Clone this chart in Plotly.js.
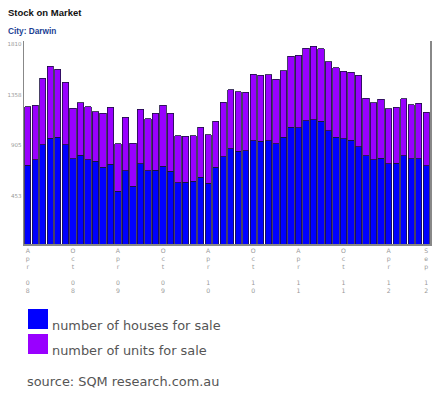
<!DOCTYPE html>
<html>
<head>
<meta charset="utf-8">
<script src="https://cdn.plot.ly/plotly-3.0.1.min.js"></script>
<style>
  html, body { margin: 0; padding: 0; background: #ffffff; }
  #chart { width: 440px; height: 393px; }
</style>
</head>
<body>
<div id="chart"></div>
<script>
// ---- data ----
const months = [
  'Apr 08','May 08','Jun 08','Jul 08','Aug 08','Sep 08','Oct 08','Nov 08','Dec 08',
  'Jan 09','Feb 09','Mar 09','Apr 09','May 09','Jun 09','Jul 09','Aug 09','Sep 09','Oct 09','Nov 09','Dec 09',
  'Jan 10','Feb 10','Mar 10','Apr 10','May 10','Jun 10','Jul 10','Aug 10','Sep 10','Oct 10','Nov 10','Dec 10',
  'Jan 11','Feb 11','Mar 11','Apr 11','May 11','Jun 11','Jul 11','Aug 11','Sep 11','Oct 11','Nov 11','Dec 11',
  'Jan 12','Feb 12','Mar 12','Apr 12','May 12','Jun 12','Jul 12','Aug 12','Sep 12'
];
const houses = [
  703, 750, 887, 944, 950, 887, 759, 792, 750,
  738, 685, 709, 470, 652, 515, 717, 652, 658, 694, 649, 548,
  551, 560, 595, 542, 685, 780, 848, 825, 831, 920, 917, 920,
  896, 950, 1042, 1036, 1098, 1110, 1093, 1009, 950, 938, 926, 866,
  786, 750, 765, 717, 720, 786, 759, 759, 697
];
const units = [
  520, 485, 593, 643, 610, 557, 453, 467, 473,
  441, 479, 509, 426, 479, 384, 483, 467, 509, 541, 518, 419,
  411, 407, 447, 431, 411, 485, 527, 533, 521, 595, 586, 589,
  572, 595, 634, 646, 647, 652, 646, 616, 622, 601, 607, 640,
  512, 509, 524, 489, 498, 509, 482, 494, 476
];
const tickMonths = ['Apr 08','Oct 08','Apr 09','Oct 09','Apr 10','Oct 10','Apr 11','Oct 11','Apr 12','Sep 12'];
const yTicks = [453, 905, 1358, 1810];
const seriesNames = ['number of houses for sale', 'number of units for sale'];
const chartTitle = 'Stock on Market';
const subTitle = 'City: Darwin';
const sourceText = 'source: SQM research.com.au';

// ---- styling ----
const BLUE = '#0000ff';
const PURPLE = '#9900ff';
const W = 440, H = 393;
const M = {l: 24, r: 10, t: 41, b: 149};
const PW = W - M.l - M.r, PH = H - M.t - M.b;
const px = x => (x - M.l) / PW;
const py = y => (H - M.b - y) / PH;

const verticalText = s => s.split('').map(c => c === ' ' ? '&nbsp;' : c).join('<br>');

const lineStyle = {color: '#1a1040', width: 0.8};

const traces = [
  {type: 'bar', name: seriesNames[0], x: months, y: houses,
   marker: {color: BLUE, line: lineStyle}, hoverinfo: 'x+y'},
  {type: 'bar', name: seriesNames[1], x: months, y: units,
   marker: {color: PURPLE, line: lineStyle}, hoverinfo: 'x+y'}
];

const layout = {
  width: W, height: H,
  margin: M,
  paper_bgcolor: '#ffffff', plot_bgcolor: '#ffffff',
  barmode: 'stack', bargap: 0.16,
  showlegend: false,
  title: {
    text: '<b>' + chartTitle + '</b>',
    x: 8 / W, xref: 'container', xanchor: 'left',
    y: 1 - 13 / H, yref: 'container', yanchor: 'middle',
    font: {family: 'Liberation Sans, Arial, sans-serif', size: 9.5, color: '#111111'}
  },
  xaxis: {
    type: 'category',
    tickmode: 'array', tickvals: tickMonths, ticktext: tickMonths.map(verticalText),
    tickangle: 0,
    showline: true, linecolor: '#888888', linewidth: 1.5,
    showgrid: false, zeroline: false, ticks: '',
    tickfont: {family: 'DejaVu Sans, sans-serif', size: 6.2, color: '#999999'},
    fixedrange: true
  },
  yaxis: {
    range: [0, 1810],
    tickmode: 'array', tickvals: yTicks, ticktext: yTicks.map(String),
    showline: true, mirror: true, linecolor: '#888888', linewidth: 1.5,
    showgrid: false, zeroline: false, ticks: '',
    ticklabelshift: 3,
    tickfont: {family: 'DejaVu Sans, sans-serif', size: 5.5, color: '#999999'},
    fixedrange: true
  },
  annotations: [
    {text: '<b>' + subTitle + '</b>', xref: 'paper', yref: 'paper',
     x: px(6), y: py(31), xanchor: 'left', yanchor: 'middle', showarrow: false,
     font: {family: 'Liberation Sans, Arial, sans-serif', size: 8.3, color: '#1c3f94'}},
    {text: seriesNames[0], xref: 'paper', yref: 'paper',
     x: px(50), y: py(325), xanchor: 'left', yanchor: 'middle', showarrow: false,
     font: {family: 'DejaVu Sans, sans-serif', size: 12.9, color: '#555555'}},
    {text: seriesNames[1], xref: 'paper', yref: 'paper',
     x: px(50), y: py(350), xanchor: 'left', yanchor: 'middle', showarrow: false,
     font: {family: 'DejaVu Sans, sans-serif', size: 12.9, color: '#555555'}},
    {text: sourceText, xref: 'paper', yref: 'paper',
     x: px(25), y: py(381), xanchor: 'left', yanchor: 'middle', showarrow: false,
     font: {family: 'DejaVu Sans, sans-serif', size: 12.9, color: '#555555'}}
  ],
  shapes: [
    {type: 'rect', xref: 'paper', yref: 'paper', x0: px(28), x1: px(48), y0: py(329), y1: py(309),
     fillcolor: BLUE, line: {width: 0}},
    {type: 'rect', xref: 'paper', yref: 'paper', x0: px(28), x1: px(48), y0: py(354), y1: py(334),
     fillcolor: PURPLE, line: {width: 0}}
  ]
};

Plotly.newPlot('chart', traces, layout, {staticPlot: true, displayModeBar: false});
</script>
</body>
</html>
